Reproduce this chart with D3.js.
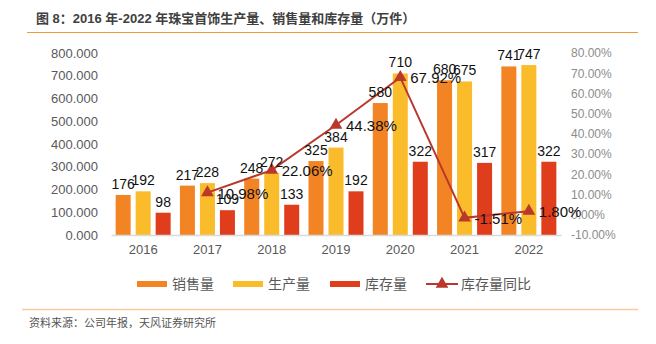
<!DOCTYPE html>
<html>
<head>
<meta charset="utf-8">
<script src="https://cdn.jsdelivr.net/npm/d3@7"></script>
<style>
  body { margin: 0; background: #fff; }
  svg { display: block; font-family: "Liberation Sans", Arial, "Noto Sans CJK SC", sans-serif; }
</style>
</head>
<body>
<div id="chart"></div>
<script>
// 2016-2022 jewellery output, sales and stock (10k pieces)
const years = ['2016', '2017', '2018', '2019', '2020', '2021', '2022'];
const sales = [176, 217, 248, 325, 580, 680, 741];
const output = [192, 228, 272, 384, 710, 675, 747];
const stock = [98, 109, 133, 192, 322, 317, 322];
const stockYoY = [null, 10.98, 22.06, 44.38, 67.92, -1.51, 1.80];
const leftTicks = [0, 100, 200, 300, 400, 500, 600, 700, 800];
const rightTicks = [-10, 0, 10, 20, 30, 40, 50, 60, 70, 80];

const seriesNames = ['销售量', '生产量', '库存量'];
const seriesData = [sales, output, stock];
const colors = ['#F38424', '#FBBC2C', '#DF3D1C'];
const lineColor = '#B9382B';

const width = 656, height = 344;
const svg = d3.select('#chart').append('svg')
  .attr('width', width)
  .attr('height', height);

// title + rules
svg.append('text')
  .attr('x', 36).attr('y', 23)
  .style('font-size', '13px')
  .style('font-weight', 'bold')
  .style('fill', '#404040')
  .text('图 8：2016 年-2022 年珠宝首饰生产量、销售量和库存量（万件）');

svg.append('line')
  .attr('x1', 27).attr('x2', 638)
  .attr('y1', 32.5).attr('y2', 32.5)
  .style('stroke', '#F39A3C').style('stroke-width', 1.2);

svg.append('line')
  .attr('x1', 22).attr('x2', 638)
  .attr('y1', 309.5).attr('y2', 309.5)
  .style('stroke', '#F9C89B').style('stroke-width', 1.5);

svg.append('text')
  .attr('x', 29).attr('y', 327)
  .style('font-size', '11px')
  .style('fill', '#555')
  .text('资料来源：公司年报，天风证券研究所');

// scales
let x0 = d3.scaleBand().domain(years).range([111, 561]);
let x1 = d3.scaleBand().domain(seriesNames).range([-27.5, 27.5]).paddingInner(0.25);
let y = d3.scaleLinear().domain([0, 800]).range([235, 53]);
let y2 = d3.scaleLinear().domain([-10, 80]).range([235, 53]);

// left axis
let yAxis = d3.axisLeft(y).tickValues(leftTicks).tickFormat(d3.format('.3f')).tickSize(0).tickPadding(0);
let gy = svg.append('g').attr('transform', 'translate(98,0)').call(yAxis);
gy.select('.domain').remove();
gy.selectAll('text')
  .style('font-size', '13px')
  .style('fill', '#595959')
  .style('font-family', '"Liberation Sans", Arial, sans-serif');

// right axis
let y2Axis = d3.axisRight(y2).tickValues(rightTicks).tickFormat(d => d.toFixed(2) + '%').tickSize(0).tickPadding(0);
let gy2 = svg.append('g').attr('transform', 'translate(571,0)').call(y2Axis);
gy2.select('.domain').remove();
gy2.selectAll('text')
  .style('font-size', '12px')
  .style('fill', '#8C8C8C')
  .style('font-family', '"Liberation Sans Narrow", "Liberation Sans", Arial, sans-serif');

// bars
seriesNames.forEach(function(name, s) {
  let g = svg.append('g');
  g.selectAll('rect')
    .data(seriesData[s])
    .enter().append('rect')
    .attr('x', (d, i) => x0(years[i]) + x0.bandwidth() / 2 + x1(name))
    .attr('y', d => y(d))
    .attr('width', x1.bandwidth())
    .attr('height', d => y(0) - y(d))
    .style('fill', colors[s]);
});

// x axis
let xAxis = d3.axisBottom(x0).tickSize(0).tickPadding(10);
let gx = svg.append('g').attr('transform', 'translate(0,235)').call(xAxis);
gx.select('.domain').style('stroke', '#D9D9D9').style('stroke-width', 1.5);
gx.selectAll('text')
  .style('font-size', '13px')
  .style('fill', '#595959')
  .style('font-family', '"Liberation Sans", Arial, sans-serif');

// YoY line
let pts = years.map((yr, i) => ({ yr: yr, v: stockYoY[i] })).filter(d => d.v !== null);
let line = d3.line()
  .x(d => x0(d.yr) + x0.bandwidth() / 2)
  .y(d => y2(d.v));

svg.append('path')
  .datum(pts)
  .attr('d', line)
  .style('fill', 'none')
  .style('stroke', lineColor)
  .style('stroke-width', 2);

let tri = d3.symbol().type(d3.symbolTriangle).size(70);
svg.selectAll('.marker')
  .data(pts)
  .enter().append('path')
  .attr('class', 'marker')
  .attr('d', tri)
  .attr('transform', d => 'translate(' + (x0(d.yr) + x0.bandwidth() / 2) + ',' + y2(d.v) + ')')
  .style('fill', lineColor);

// value labels on bars
seriesNames.forEach(function(name, s) {
  svg.append('g').selectAll('text')
    .data(seriesData[s])
    .enter().append('text')
    .attr('x', (d, i) => x0(years[i]) + x0.bandwidth() / 2 + x1(name) + x1.bandwidth() / 2)
    .attr('y', d => y(d) - 6)
    .attr('text-anchor', 'middle')
    .style('font-size', '14px')
    .style('fill', '#111')
    .text(d => d);
});

// percent labels
svg.append('g').selectAll('text')
  .data(pts)
  .enter().append('text')
  .attr('x', d => x0(d.yr) + x0.bandwidth() / 2 + 10)
  .attr('y', d => y2(d.v) + 6)
  .style('font-size', '15px')
  .style('fill', '#111')
  .text(d => d.v.toFixed(2) + '%');

// legend
let legend = svg.append('g').attr('transform', 'translate(0,284)');
let legendX = [137, 233, 330];
seriesNames.forEach(function(name, s) {
  legend.append('rect')
    .attr('x', legendX[s]).attr('y', -3)
    .attr('width', 30).attr('height', 6)
    .style('fill', colors[s]);
  legend.append('text')
    .attr('x', legendX[s] + 35).attr('y', 5)
    .style('font-size', '14px')
    .style('fill', '#595959')
    .text(name);
});
legend.append('line')
  .attr('x1', 426).attr('x2', 458)
  .attr('y1', 0).attr('y2', 0)
  .style('stroke', lineColor).style('stroke-width', 2);
legend.append('path')
  .attr('d', tri)
  .attr('transform', 'translate(442,0)')
  .style('fill', lineColor);
legend.append('text')
  .attr('x', 461).attr('y', 5)
  .style('font-size', '14px')
  .style('fill', '#595959')
  .text('库存量同比');
</script>
</body>
</html>
